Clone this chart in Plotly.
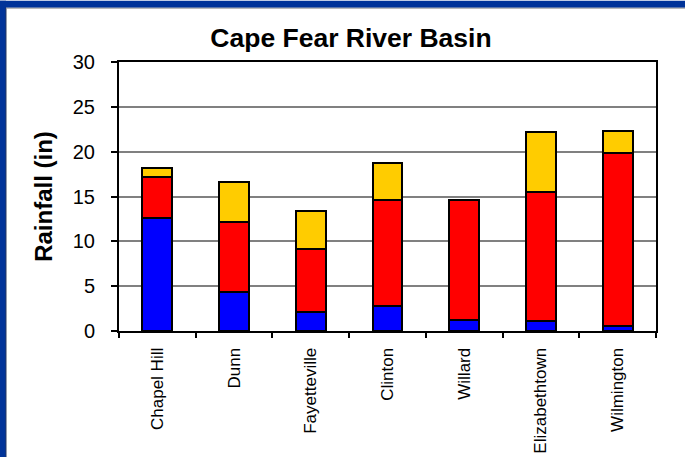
import plotly.graph_objects as go

# Rainfall by station, stacked by component (inches)
stations = ["Chapel Hill", "Dunn", "Fayetteville", "Clinton", "Willard",
            "Elizabethtown", "Wilmington"]
blue_part = [12.6, 4.3, 2.1, 2.8, 1.2, 1.1, 0.6]
red_part = [4.6, 7.9, 7.1, 11.8, 13.4, 14.4, 19.2]
yellow_part = [1.0, 4.4, 4.2, 4.1, None, 6.7, 2.5]
y_ticks = [0, 5, 10, 15, 20, 25, 30]

FONT = "Liberation Sans, Arial, sans-serif"
W, H = 685, 458
ML, MR, MT, MB = 119, 29, 61.5, 126.5
PW, PH = W - ML - MR, H - MT - MB

fig = go.Figure()
for vals, col in [(blue_part, "#0000FF"), (red_part, "#FF0000"), (yellow_part, "#FFCC00")]:
    fig.add_trace(go.Bar(
        x=stations, y=vals,
        marker=dict(color=col, line=dict(color="black", width=2)),
        showlegend=False,
    ))


def px_x(px):
    return (px - ML) / PW


def px_y(py):
    return (H - MB - py) / PH


# navy frame along the top and left edges
frame = [
    dict(x0=px_x(0), x1=px_x(W), y0=px_y(7), y1=px_y(0), color="#003399"),
    dict(x0=px_x(0), x1=px_x(6), y0=px_y(H), y1=px_y(0), color="#003399"),
]
shapes = []
for f in frame:
    shapes.append(dict(type="rect", xref="paper", yref="paper",
                       x0=f["x0"], x1=f["x1"], y0=f["y0"], y1=f["y1"],
                       fillcolor=f["color"], line=dict(width=0), layer="above"))
shapes.append(dict(type="line", xref="paper", yref="paper",
                   x0=px_x(6), x1=px_x(6), y0=px_y(H), y1=px_y(7),
                   line=dict(color="#24365e", width=1), layer="above"))
shapes.append(dict(type="line", xref="paper", yref="paper",
                   x0=px_x(6), x1=px_x(W), y0=px_y(7.5), y1=px_y(7.5),
                   line=dict(color="#9a9a9a", width=1), layer="above"))

fig.update_layout(
    width=W, height=H,
    margin=dict(l=ML, r=MR, t=MT, b=MB, pad=0, autoexpand=False),
    paper_bgcolor="white", plot_bgcolor="white",
    barmode="stack", bargap=0.61,
    font=dict(family=FONT, color="black"),
    title=dict(text="<b>Cape Fear River Basin</b>", x=351 / W, xanchor="center",
               y=1 - 38 / H, yanchor="middle",
               font=dict(family=FONT, size=26.5, color="black")),
    xaxis=dict(
        type="category", tickangle=-90, automargin=False,
        tickfont=dict(family=FONT, size=17, color="black"),
        ticks="outside", tickson="boundaries", ticklen=5, tickwidth=1.5,
        tickcolor="black", ticklabelstandoff=8,
        showline=True, linecolor="black", linewidth=2, mirror=True,
        showgrid=False,
    ),
    yaxis=dict(
        range=[0, 30], tickvals=y_ticks, automargin=False,
        tickfont=dict(family=FONT, size=20, color="black"),
        ticks="outside", ticklen=6, tickwidth=1.5, tickcolor="black",
        ticklabelstandoff=12,
        showline=True, linecolor="black", linewidth=2, mirror=True,
        showgrid=True, gridcolor="#808080", gridwidth=1.5,
        zeroline=False,
        title=dict(text="<b>Rainfall (in)</b>", standoff=13,
                   font=dict(family=FONT, size=24, color="black")),
    ),
    shapes=shapes,
)

fig.write_html("out.html")
